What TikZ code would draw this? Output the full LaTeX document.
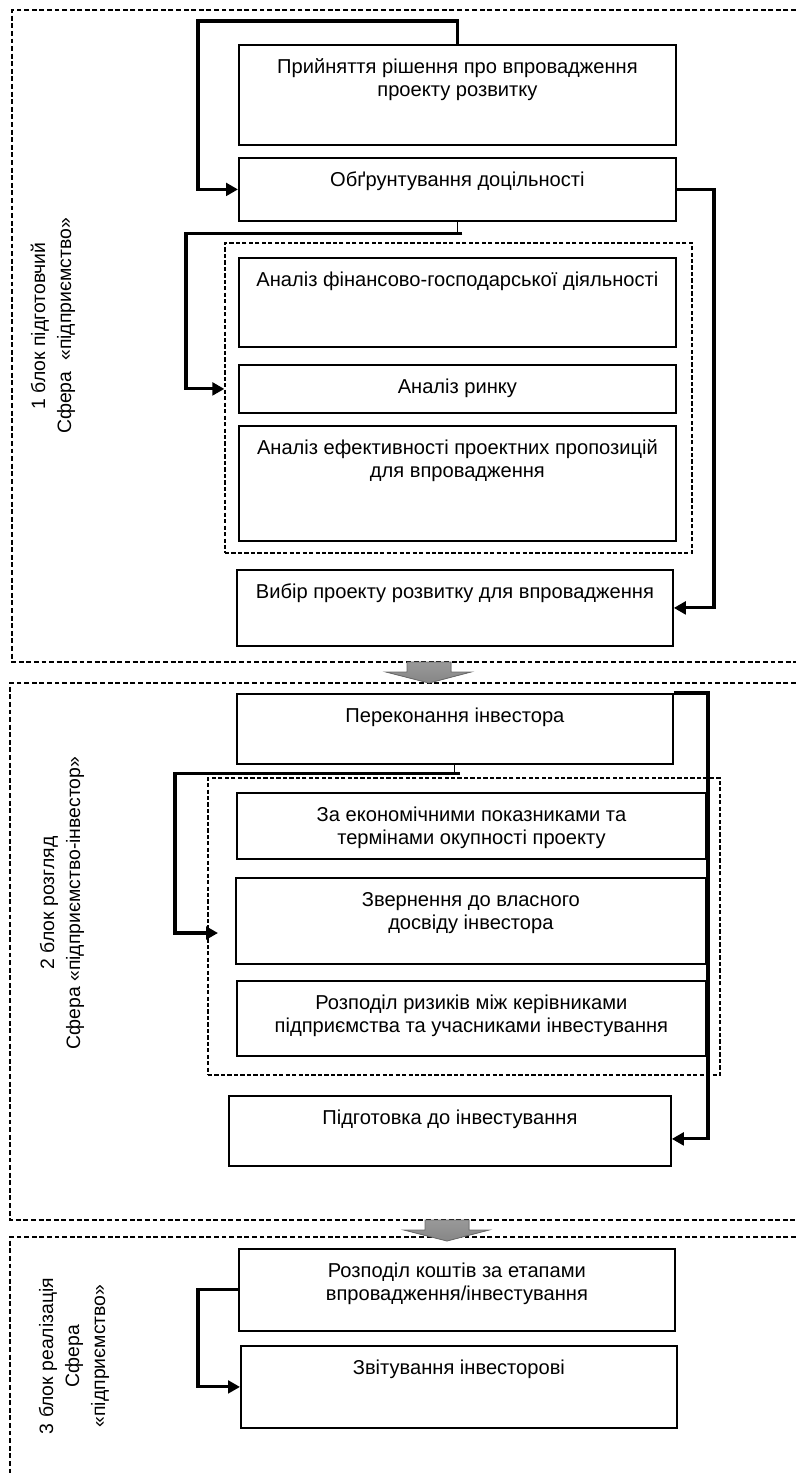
\documentclass[tikz,border=0pt]{standalone}
\usepackage{fontspec}
\setmainfont{Liberation Sans}
\usetikzlibrary{arrows.meta,calc,fit}
\newlength{\pxl}\setlength{\pxl}{0.025cm}
\definecolor{arrowedge}{HTML}{6A6A6A}
\tikzset{>={Triangle[length=8.5pt,width=9pt]},
  every node/.style={font=\fontsize{14.3}{15.8}\selectfont},
  stepbox/.style={draw,line width=1.3pt,inner sep=0pt,anchor=north west},
  flow/.style={->,line width=2.2pt},
  tick/.style={line width=.7pt},
  zone/.style={draw,line width=1pt,dash pattern=on 3.5pt off 1.9pt},
  group/.style={draw,line width=.9pt,dash pattern=on 3pt off 1.6pt,inner sep=0pt},
  sidelabel/.style={rotate=90,align=center,font=\fontsize{13.8}{18.5}\selectfont},
  blockarrow/.style={draw=arrowedge,line width=.6pt,top color=gray!80,bottom color=gray!95}}
% box: name, x1, y1, x2, y2 (pixels), text at the top
\newcommand{\stage}[6]{\node[stepbox] (#1) at (#2,#3)
  {\parbox[t][\dimexpr\pxl*(#5-#3)\relax][t]{\dimexpr\pxl*(#4-#2)\relax}{\centering\rule{0pt}{29\pxl}#6\par}};}

\begin{document}
\begin{tikzpicture}[x=0.025cm,y=-0.025cm]
\useasboundingbox (0,0) rectangle (796,1476);
% zones
\draw[zone] (796,10) -| (12,662) -- (796,662);
\draw[zone] (796,683) -| (10,1220) -- (796,1220);
\draw[zone] (796,1237) -| (10,1476);
\node[sidelabel] (lab1) at (53,326) {1 блок підготовчий\\Сфера\ \ «підприємство»};
\node[sidelabel] (lab2) at (62,903) {2 блок розгляд\\Сфера «підприємство-інвестор»};
\node[sidelabel] (lab3) at (74,1356) {3 блок реалізація\\Сфера\\«підприємство»};
\foreach \cx/\cy in {429/662,447/1220} {\filldraw[blockarrow] (\cx,\cy) ++(-22,0) -- ++(44,0) -- ++(0,10) -- ++(20,0) -- (\cx,\cy+21) -- ++(-43,-11) -- ++(21,0) -- cycle;}
% block 1
\stage{A}{238}{44}{675}{144}{Прийняття рішення про впровадження\\проекту розвитку}
\stage{B}{238}{157}{675}{220}{Обґрунтування доцільності}
\node[group,fit={(225,243) (692,553)}] (g1) {};
\stage{C1}{238}{257}{675}{346}{Аналіз фінансово-господарської діяльності}
\stage{C2}{238}{364}{675}{412}{Аналіз ринку}
\stage{C3}{238}{425}{675}{540}{Аналіз ефективності проектних пропозицій\\для впровадження}
\stage{D}{236}{569}{672}{645}{Вибір проекту розвитку для впровадження}
\draw[flow] (A.north) |- (198,21) |- (B.west);
\draw[flow] (B.east) -| (714,400) |- (D.east);
\draw[tick] (B.south) -- ++(0,12) coordinate (b1);
\draw[flow] ([xshift=5\pxl]b1) -| (186,300) |- (g1.west |- C2);
% block 2
\stage{E}{236}{693}{672}{763}{Переконання інвестора}
\node[group,fit={(208,778) (720,1075)}] (g2) {};
\stage{F1}{236}{792}{705}{858}{За економічними показниками та\\термінами окупності проекту}
\stage{F2}{235}{877}{705}{963}{Звернення до власного\\досвіду інвестора}
\stage{F3}{236}{980}{705}{1055}{Розподіл ризиків між керівниками\\підприємства та учасниками інвестування}
\stage{H}{228}{1095}{670}{1165}{Підготовка до інвестування}
\coordinate (f2in) at (218,933);
\draw[flow] (E.north east) -| (708,900) |- ([yshift=-8\pxl]H.east);
\draw[tick] (E.south) -- ++(0,9) coordinate (e1);
\draw[flow] ([xshift=5\pxl]e1) -| (175,850) |- (f2in);
% block 3
\stage{I}{238}{1248}{674}{1330}{Розподіл коштів за етапами\\впровадження/інвестування}
\stage{J}{240}{1345}{676}{1427}{Звітування інвесторові}
\draw[flow] (I.west) -| (198,1340) |- (J.west);
\end{tikzpicture}
\end{document}
